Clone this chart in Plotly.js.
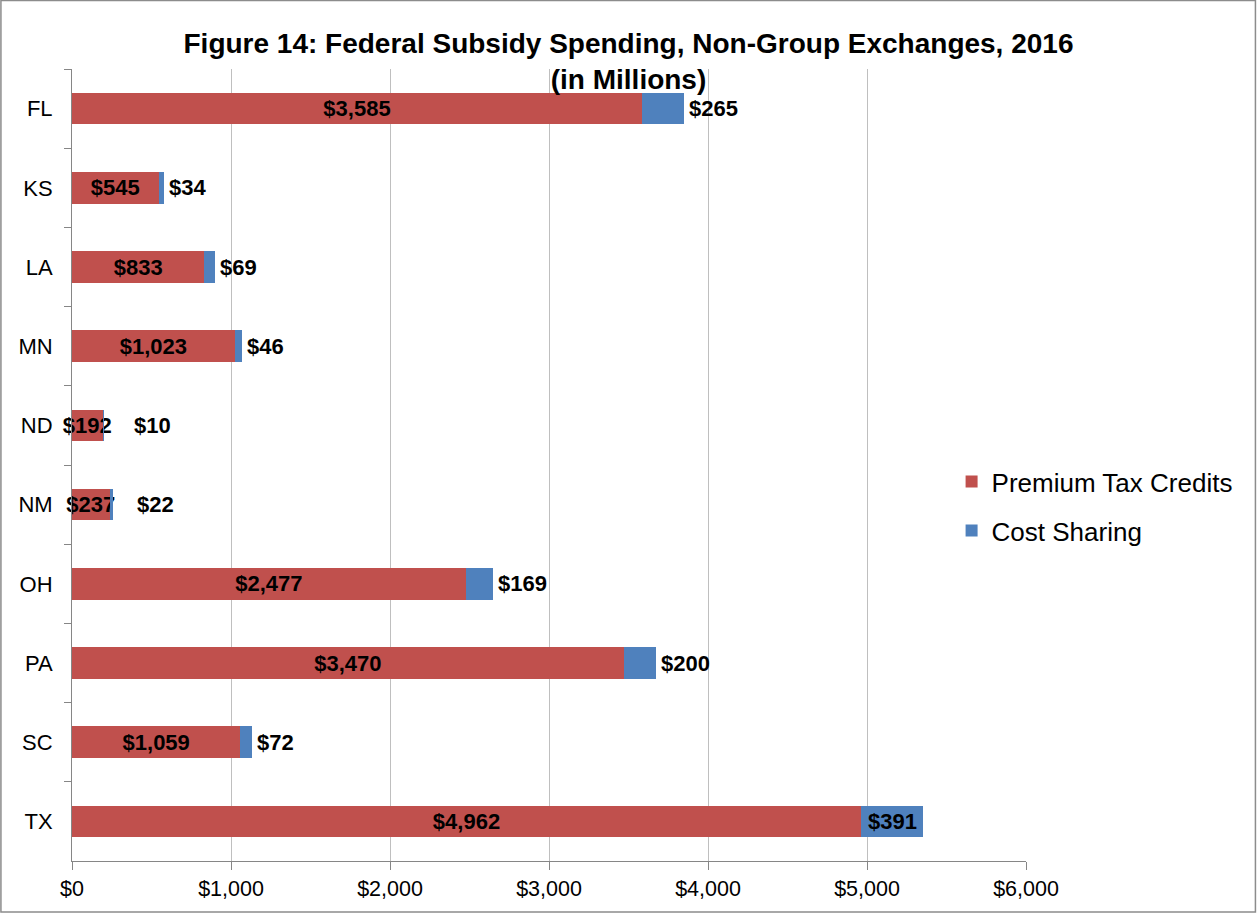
<!DOCTYPE html>
<html>
<head>
<meta charset="utf-8">
<script src="https://cdn.plot.ly/plotly-3.0.1.min.js"></script>
<style>html,body{margin:0;padding:0;background:#fff}#chart{width:1257px;height:913px}</style>
</head>
<body>
<div id="chart"></div>
<script>
const states = ['FL','KS','LA','MN','ND','NM','OH','PA','SC','TX'];
const premiumTaxCredits = [3585, 545, 833, 1023, 192, 237, 2477, 3470, 1059, 4962];
const costSharing = [265, 34, 69, 46, 10, 22, 169, 200, 72, 391];
const xTickVals = [0, 1000, 2000, 3000, 4000, 5000, 6000];
const xTickText = xTickVals.map(v => '$' + v.toLocaleString('en-US'));

const FONT = 'Liberation Sans, Arial, sans-serif';
const LABEL_SIZE = 22;
const labelFont = {family: FONT, size: LABEL_SIZE, color: '#000', weight: 'bold'};

const W = 1257, H = 913;
const margin = {l: 72, r: 231, t: 69, b: 52, pad: 0};
const xMax = 6000;
const pxPerUnit = (W - margin.l - margin.r) / xMax;
const fmt = v => '$' + v.toLocaleString('en-US');
// approximate label width in px for bold Arial-metric font
const textWidth = s => s.split('').reduce((w, c) => w + (c === ',' ? 0.278 : 0.556) * LABEL_SIZE, 0);

// cost-sharing labels: inside when they fit, otherwise just past the bar end,
// pushed clear of any premium label that overflows its own segment
const costAnnotations = states.map((st, i) => {
  const p = premiumTaxCredits[i], c = costSharing[i];
  const cTxt = fmt(c), pTxt = fmt(p);
  const cw = textWidth(cTxt), pw = textWidth(pTxt);
  if (c * pxPerUnit > cw + 4) {
    return {x: p + c / 2, y: st, xref: 'x', yref: 'y', text: cTxt, showarrow: false,
            xanchor: 'center', font: labelFont};
  }
  const barEndPx = (p + c) * pxPerUnit;
  const premRightPx = (p * pxPerUnit) / 2 + pw / 2;
  const startPx = Math.max(barEndPx + 3, premRightPx + 20);
  return {x: p + c, y: st, xref: 'x', yref: 'y', text: cTxt, showarrow: false,
          xanchor: 'left', xshift: startPx - barEndPx, font: labelFont};
});

const traces = [
  {
    type: 'bar', orientation: 'h', name: 'Premium Tax Credits',
    y: states, x: premiumTaxCredits,
    marker: {color: '#C0504D'},
    texttemplate: '$%{x:,.0f}', textposition: 'inside', insidetextanchor: 'middle',
    textangle: 0, constraintext: 'none', textfont: labelFont, insidetextfont: labelFont,
    cliponaxis: false, legendgroup: 'a', hoverinfo: 'skip'
  },
  {
    type: 'bar', orientation: 'h', name: 'Cost Sharing',
    y: states, x: costSharing,
    marker: {color: '#4F81BD'},
    textposition: 'none',
    cliponaxis: false, legendgroup: 'b', hoverinfo: 'skip'
  }
];

const layout = {
  width: W, height: H,
  margin: margin,
  paper_bgcolor: '#fff', plot_bgcolor: '#fff',
  barmode: 'stack', bargap: 0.6,
  font: {family: FONT, color: '#000'},
  title: {
    text: 'Figure 14: Federal Subsidy Spending, Non-Group Exchanges, 2016<br>(in Millions)',
    font: {family: FONT, size: 28, weight: 'bold', color: '#000'},
    x: 0.5, xanchor: 'center', xref: 'container', yref: 'container', y: 0.942, yanchor: 'top'
  },
  xaxis: {
    range: [0, xMax], tickmode: 'array', tickvals: xTickVals, ticktext: xTickText,
    showgrid: true, gridcolor: '#BFBFBF', gridwidth: 1,
    showline: true, linecolor: '#868686', linewidth: 1,
    ticks: 'outside', ticklen: 8, tickcolor: '#868686',
    tickfont: {family: FONT, size: 21.5, color: '#000'},
    zeroline: false, fixedrange: true
  },
  yaxis: {
    autorange: 'reversed', type: 'category',
    showline: true, linecolor: '#868686', linewidth: 1,
    ticks: 'outside', tickson: 'boundaries', ticklen: 7, tickcolor: '#868686',
    tickfont: {family: FONT, size: 22, color: '#000'},
    showgrid: false, zeroline: false, fixedrange: true, ticklabelstandoff: 14
  },
  showlegend: true,
  legend: {
    x: 0.922, xanchor: 'left', y: 0.448, yanchor: 'middle',
    traceorder: 'grouped', tracegroupgap: 12,
    font: {family: FONT, size: 26, color: '#000'},
    bgcolor: 'rgba(0,0,0,0)'
  },
  annotations: costAnnotations,
  shapes: [{
    type: 'rect', xref: 'paper', yref: 'paper',
    x0: -0.0745, x1: 1.2405, y0: -0.0644, y1: 1.0866,
    line: {color: '#8C8C8C', width: 1.5}, fillcolor: 'rgba(0,0,0,0)'
  }]
};

Plotly.newPlot('chart', traces, layout, {displayModeBar: false, staticPlot: true});
</script>
</body>
</html>
